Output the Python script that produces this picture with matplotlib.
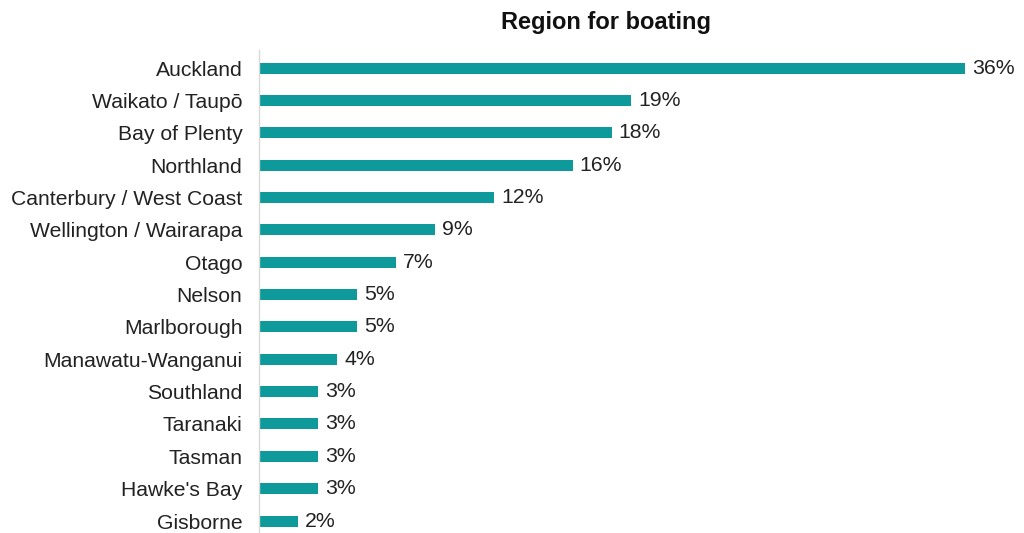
import matplotlib
matplotlib.use("Agg")
import matplotlib.pyplot as plt

regions = ["Auckland", "Waikato / Taupō", "Bay of Plenty", "Northland",
           "Canterbury / West Coast", "Wellington / Wairarapa", "Otago",
           "Nelson", "Marlborough", "Manawatu-Wanganui", "Southland",
           "Taranaki", "Tasman", "Hawke's Bay", "Gisborne"]
pct = [36, 19, 18, 16, 12, 9, 7, 5, 5, 4, 3, 3, 3, 3, 2]
bar_color = "#0E9A9A"

plt.rcParams["font.family"] = ["Liberation Sans", "DejaVu Sans"]

fig = plt.figure(figsize=(10.24, 5.33), dpi=100)
ax = fig.add_axes([259 / 1024, 0, (1000 - 259) / 1024, 483 / 533])

ypos = list(range(len(regions)))
ax.barh(ypos, pct, height=0.34, color=bar_color)
for y, v in zip(ypos, pct):
    ax.annotate(f"{v}%", (v, y), xytext=(5, 0), textcoords="offset points",
                va="center", ha="left", fontsize=15.3, color="#222222")

ax.set_xlim(0, 37.8)
ax.set_ylim(14.37, -0.56)
ax.set_yticks(ypos)
ax.set_yticklabels(regions, fontsize=15.2, color="#222222")
ax.tick_params(axis="y", length=0, pad=12)
ax.set_xticks([])
for s in ["top", "right", "bottom"]:
    ax.spines[s].set_visible(False)
ax.spines["left"].set_color("#d9d9d9")
ax.spines["left"].set_linewidth(1)

fig.text(606 / 1024, 1 - 22 / 533, "Region for boating", ha="center", va="center",
         fontsize=17, fontweight="bold", color="#111111")

fig.savefig("out.png", dpi=100)
